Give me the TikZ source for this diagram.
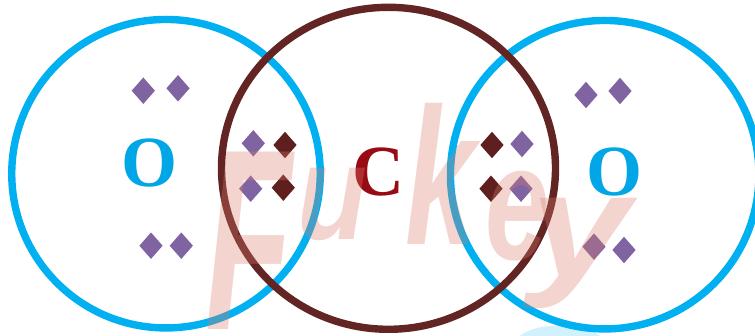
\documentclass[tikz,border=0pt]{standalone}
\usepackage{fontspec}
\setmainfont{Liberation Serif}
\newfontfamily\wmfont{Liberation Sans}
\usetikzlibrary{shapes.geometric}
\definecolor{oblue}{HTML}{00B0F0}
\definecolor{olabel}{HTML}{00A6E6}
\definecolor{cbrown}{HTML}{632523}
\definecolor{clabel}{HTML}{980A14}
\definecolor{epurple}{HTML}{8064A2}
\definecolor{ebrown}{HTML}{5E1F1E}
\definecolor{wmark}{HTML}{DC7A6C}
\tikzset{
  shell/.style={draw=#1,line width=7.4pt,circle,inner sep=0pt,fill=none},
  carbonshell/.style={draw=#1,line width=7.4pt,ellipse,inner sep=0pt,fill=none,minimum width=334pt,minimum height=322pt},
  electron/.style={diamond,aspect=0.88,fill=#1,draw=none,inner sep=0pt,minimum width=23.4pt,minimum height=26.6pt},
  atomlabel/.style={font=\fontsize{72}{72}\selectfont\bfseries,text=#1,inner sep=0pt},
  wmletter/.style={font=\wmfont\bfseries\itshape\fontsize{#1}{#1}\selectfont,text=wmark,text opacity=0.32,inner sep=0pt,anchor=base west}
}
\begin{document}
\begin{tikzpicture}[x=1pt,y=-1pt]
\useasboundingbox (0,0) rectangle (755,336);
\fill[white] (0,0) rectangle (755,336);
\fill[oblue!18] (520,336) .. controls (535,322) and (585,322) .. (600,336) -- cycle;
\node[shell=oblue,minimum size=308.5pt] (oleft) at (166,173.7) {};
\node[shell=oblue,minimum size=308.5pt] (oright) at (604.7,174.7) {};
\node[carbonshell=cbrown] (carbon) at (388.5,168.3) {};
\node[atomlabel=olabel] (lo) at (150,163) {O};
\node[atomlabel=olabel] (ro) at (614,172) {O};
\node[atomlabel=clabel] (lc) at (378,172) {C};
\foreach \n/\x/\y in {a/143.3/90.7,b/178/88.3,c/253.3/143.3,d/250.7/188.7,e/151/245.7,f/181.3/245.7,g/522/144,h/521/188.7,i/586/95,j/620/91,k/594/246.7,l/624/250}
  \node[electron=epurple] (p\n) at (\x,\y) {};
\foreach \n/\x/\y in {a/285/145,b/283.3/187.7,c/492/145,d/491/188.7}
  \node[electron=ebrown] (q\n) at (\x,\y) {};
\node[wmletter=258,xscale=.55] (wf) at (205,330) {F};
\node[wmletter=135,xscale=.85] (wu) at (297,240) {u};
\node[wmletter=195,xscale=.65] (wk) at (405,245) {k};
\node[wmletter=164,xscale=.7] (we) at (485,260) {e};
\node[wmletter=150,xscale=1.2] (wy) at (530,278) {y};
\end{tikzpicture}
\end{document}
